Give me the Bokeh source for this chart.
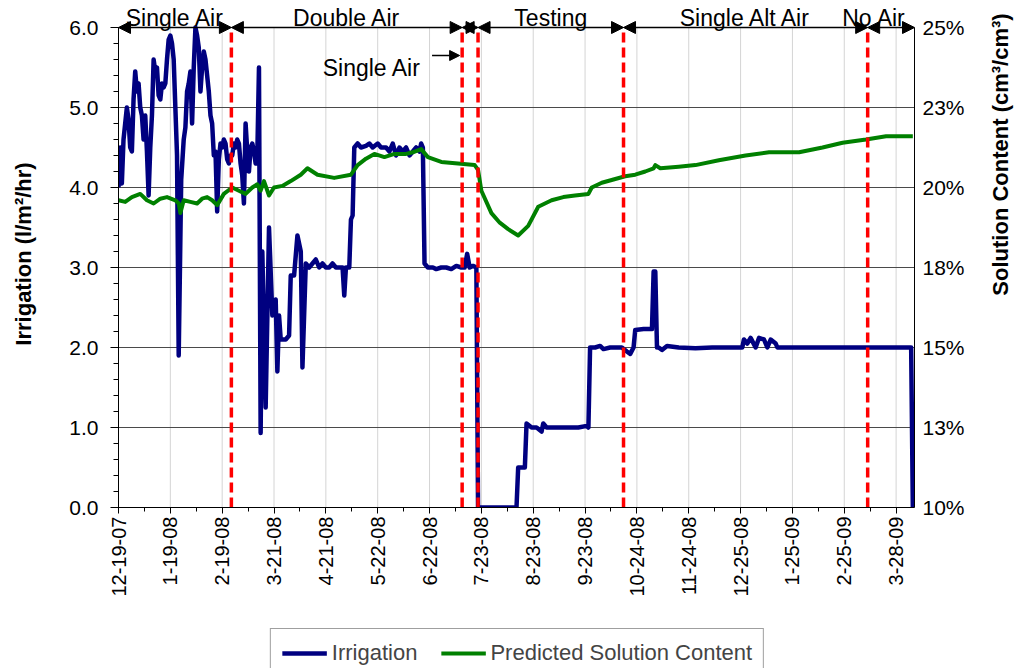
import math
import pandas as pd
from bokeh.plotting import figure
from bokeh.layouts import column, row
from bokeh.core.properties import value
from bokeh.models import (Range1d, LinearAxis, FixedTicker, NumeralTickFormatter, Spacer,
                          Arrow, NormalHead, Label, LabelSet, ColumnDataSource, Legend, LegendItem)
from bokeh.embed import file_html
from bokeh.resources import INLINE

# ---------------- data ----------------
start_date = "2007-12-19"
end_date = "2009-04-08"
date_labels = ["12-19-07", "1-19-08", "2-19-08", "3-21-08", "4-21-08", "5-22-08", "6-22-08",
               "7-23-08", "8-23-08", "9-23-08", "10-24-08", "11-24-08", "12-25-08", "1-25-09",
               "2-25-09", "3-28-09"]

irr_ticks = [0, 1, 2, 3, 4, 5, 6]
sol_ticks = [0.10, 0.125, 0.15, 0.175, 0.20, 0.225, 0.25]
sol_tick_labels = ["10%", "13%", "15%", "18%", "20%", "23%", "25%"]

# days since start_date, irrigation (l/m2/hr)
irr_day = [0, 1, 2, 3, 4, 5, 6, 7, 8, 9,
           10, 11, 12, 13, 14, 15, 16, 17, 18, 19,
           20, 21, 22, 23, 24, 25, 26, 27, 28, 29,
           30, 31, 32, 33, 34, 35, 36, 37.5, 39, 40,
           41, 42, 43, 44, 45, 46, 47, 48, 49, 50,
           51, 52, 53, 54, 55, 56, 57, 58, 59, 60,
           61, 62, 63, 64, 65, 66, 67, 68, 69, 70,
           71, 72, 73, 74, 75, 76, 77, 78, 79, 80,
           81, 82, 83, 84, 85, 86, 88, 90, 92, 94,
           95, 96, 97, 100, 102, 103, 105, 107, 109, 110,
           112, 114, 116, 118, 120, 122, 124, 126, 128, 130,
           132, 134, 135, 136, 138, 139, 140, 141, 143, 145,
           148, 150, 152, 155, 157, 160, 162, 164, 166, 168,
           170, 172, 174, 176, 178, 180, 181, 182, 183, 185,
           188, 190, 193, 196, 199, 202, 205, 207, 208.5, 210,
           212, 214, 215, 238, 239, 243, 244, 247, 250, 253,
           254, 256, 260, 265, 270, 275, 280, 281, 282, 285,
           288, 290, 294, 298, 301, 304, 306, 308, 309, 314,
           319, 320, 321, 322, 323, 325, 328, 335, 345, 355,
           365, 373, 374, 376, 378, 381, 383, 386, 388, 390,
           393, 394, 474, 475]
irr_value = [4.0, 4.5, 4.05, 4.6, 4.8, 5.0, 4.85, 4.5, 4.45, 5.1,
             5.45, 5.2, 5.3, 5.0, 4.9, 4.6, 4.9, 4.45, 3.9, 4.5,
             4.9, 5.6, 5.45, 5.5, 5.15, 5.1, 5.3, 5.25, 5.3, 5.6,
             5.85, 5.9, 5.8, 5.6, 5.0, 4.4, 1.9, 4.1, 4.6, 4.75,
             5.2, 5.3, 5.45, 4.8, 5.5, 6.0, 5.9, 5.75, 5.2, 5.5,
             5.7, 5.6, 5.4, 5.2, 4.9, 4.8, 4.4, 4.45, 3.7, 4.35,
             4.55, 4.5, 4.6, 4.55, 4.35, 4.3, 4.4, 4.4, 4.55, 4.5,
             4.6, 4.55, 4.3, 4.15, 3.8, 4.8, 4.45, 4.2, 4.5, 4.55,
             4.45, 4.3, 4.4, 5.5, 0.93, 3.2, 1.25, 3.5, 2.4, 2.6,
             1.7, 2.4, 2.1, 2.1, 2.15, 2.9, 2.9, 3.4, 3.2, 1.75,
             3.05, 3.0, 3.05, 3.1, 3.0, 3.05, 3.0, 3.0, 3.05, 3.0,
             3.0, 3.0, 2.65, 3.0, 3.0, 3.6, 3.65, 4.5, 4.55, 4.5,
             4.52, 4.55, 4.5, 4.55, 4.5, 4.5, 4.45, 4.55, 4.4, 4.5,
             4.45, 4.5, 4.4, 4.45, 4.5, 4.45, 4.55, 4.5, 3.05, 3.0,
             3.0, 2.98, 3.0, 3.0, 2.98, 3.02, 3.0, 3.0, 3.17, 3.0,
             3.02, 3.0, 0.0, 0.0, 0.5, 0.5, 1.05, 1.0, 1.0, 0.95,
             1.05, 1.0, 1.0, 1.0, 1.0, 1.0, 1.02, 1.0, 2.0, 2.0,
             2.02, 1.98, 2.0, 2.0, 2.0, 1.95, 1.92, 2.0, 2.22, 2.23,
             2.23, 2.95, 2.95, 2.0, 2.0, 1.97, 2.02, 2.0, 1.99, 2.0,
             2.0, 2.0, 2.1, 2.05, 2.12, 2.0, 2.12, 2.1, 2.0, 2.1,
             2.05, 2.0, 2.0, 0.0]

# days since start_date, predicted solution content (cm3/cm3)
sol_day = [0, 4, 8, 13, 17, 21, 25, 29, 34, 36,
           37, 39, 43, 47, 50, 53, 56, 59, 63, 68,
           72, 76, 80, 83, 85, 87, 90, 93, 98, 103,
           109, 113, 119, 129, 139, 143, 148, 153, 159, 165,
           172, 176, 181, 185, 193, 203, 213, 215, 217, 223,
           228, 233, 239, 245, 251, 259, 266, 273, 281, 283,
           289, 296, 303, 309, 315, 320, 321, 324, 335, 345,
           359, 375, 389, 407, 421, 433, 447, 459, 475]
sol_content = [0.196, 0.1955, 0.197, 0.198, 0.196, 0.195, 0.1965, 0.197, 0.196, 0.195,
               0.192, 0.196, 0.1955, 0.195, 0.1965, 0.197, 0.196, 0.1945, 0.198, 0.200,
               0.199, 0.198, 0.200, 0.201, 0.199, 0.202, 0.1975, 0.200, 0.2005, 0.202,
               0.204, 0.206, 0.204, 0.203, 0.204, 0.207, 0.209, 0.2105, 0.2095, 0.2105,
               0.2105, 0.211, 0.212, 0.2095, 0.208, 0.2075, 0.207, 0.2055, 0.199, 0.192,
               0.189, 0.187, 0.185, 0.188, 0.194, 0.196, 0.197, 0.1975, 0.198, 0.200,
               0.2015, 0.2025, 0.2035, 0.204, 0.205, 0.206, 0.207, 0.206, 0.2065, 0.207,
               0.2085, 0.210, 0.211, 0.211, 0.2125, 0.214, 0.215, 0.216, 0.216]

phase_names = ["Single Air", "Double Air", "", "Testing", "Single Alt Air", "No Air"]
phase_bounds = ["2007-12-19", "2008-02-24 12:00", "2008-07-11 12:00", "2008-07-21",
                "2008-10-16", "2009-03-11", "2009-04-08"]
short_phase_name = "Single Air"
series_names = ["Irrigation", "Predicted Solution Content"]
left_title = "Irrigation (l/m²/hr)"
right_title = "Solution Content (cm³/cm³)"

# ---------------- helpers ----------------
start = pd.Timestamp(start_date)


def ms(ts):
    return pd.Timestamp(ts).value / 1e6


irr_x = [start + pd.Timedelta(days=d) for d in irr_day]
sol_x = [start + pd.Timedelta(days=d) for d in sol_day]
tick_ms = [ms(pd.to_datetime(lbl, format="%m-%d-%y")) for lbl in date_labels]
half = (tick_ms[1] - tick_ms[0]) / 2
minor_ms = []
for t in tick_ms:
    minor_ms += [t, t + half]
bounds_ms = [ms(b) for b in phase_bounds]

FONT = "Liberation Sans"
IRR_COLOR = "#000080"
SOL_COLOR = "#008000"
top = irr_ticks[-1]
pad = 27.0 / 80.0          # room above the top of the axes for the phase labels
sol_per_irr = (sol_ticks[-1] - sol_ticks[0]) / (irr_ticks[-1] - irr_ticks[0])

MAIN_W, MAIN_H = 976, 620
p = figure(width=MAIN_W, height=MAIN_H, x_axis_type="datetime",
           x_range=Range1d(ms(start_date), ms(end_date)), y_range=Range1d(0, top + pad),
           output_backend="svg", toolbar_location=None,
           min_border_left=118, min_border_right=62, min_border_top=0, min_border_bottom=113)
p.outline_line_color = None
p.background_fill_color = "white"
p.border_fill_color = "white"

# x axis
xt = FixedTicker(ticks=tick_ms, minor_ticks=minor_ms)
p.xaxis.ticker = xt
p.xaxis.major_label_overrides = {t: l for t, l in zip(tick_ms, date_labels)}
p.xaxis.major_label_orientation = math.pi / 2
p.xaxis.major_label_text_font = FONT
p.xaxis.major_label_text_font_size = "20px"
p.xaxis.major_label_text_color = "black"
p.xaxis.major_label_standoff = 3
p.xaxis.major_tick_out = 6
p.xaxis.major_tick_in = 0
p.xaxis.minor_tick_out = 4
p.xaxis.minor_tick_in = 0
p.xaxis.axis_line_color = "black"
p.xaxis.major_tick_line_color = "black"
p.xaxis.minor_tick_line_color = "black"

# left axis
yt = FixedTicker(ticks=irr_ticks, minor_ticks=[i / 5 for i in range(0, 31)])
p.yaxis.ticker = yt
p.yaxis.bounds = (irr_ticks[0], irr_ticks[-1])
p.yaxis.formatter = NumeralTickFormatter(format="0.0")
p.yaxis.axis_label = left_title
p.yaxis.axis_label_text_font = FONT
p.yaxis.axis_label_text_font_style = "bold"
p.yaxis.axis_label_text_font_size = "22px"
p.yaxis.axis_label_text_color = "black"
p.yaxis.axis_label_standoff = 30
p.yaxis.major_label_text_font = FONT
p.yaxis.major_label_text_font_size = "21px"
p.yaxis.major_label_text_color = "black"
p.yaxis.major_label_standoff = 12
p.yaxis.major_tick_out = 8
p.yaxis.major_tick_in = 0
p.yaxis.minor_tick_out = 5
p.yaxis.minor_tick_in = 0
p.yaxis.axis_line_color = "black"

# right axis (its title sits in a narrow strip to the right)
p.extra_y_ranges = {"sol": Range1d(sol_ticks[0], sol_ticks[-1] + pad * sol_per_irr)}
ra = LinearAxis(y_range_name="sol", ticker=FixedTicker(ticks=sol_ticks),
                bounds=(sol_ticks[0], sol_ticks[-1]))
ra.major_label_overrides = {t: l for t, l in zip(sol_ticks, sol_tick_labels)}
ra.major_label_text_font = FONT
ra.major_label_text_font_size = "21px"
ra.major_label_text_color = "black"
ra.major_label_standoff = 8
ra.major_tick_out = 0
ra.major_tick_in = 0
ra.minor_tick_out = 0
ra.axis_line_color = "black"
p.add_layout(ra, "right")

# grids
p.xgrid.visible = False
p.segment(x0=tick_ms, y0=[irr_ticks[0]] * len(tick_ms), x1=tick_ms, y1=[top] * len(tick_ms),
          line_color="#d4d4d4", line_width=1, level="underlay")
p.ygrid.ticker = yt
p.ygrid.grid_line_color = "#4a4a4a"

# series
p.line(irr_x, irr_value, line_color=IRR_COLOR, line_width=4.5, line_join="round")
p.line(sol_x, sol_content, y_range_name="sol", line_color=SOL_COLOR, line_width=4,
       line_join="round")

# phase dividers
div_ms = bounds_ms[1:-1]
p.segment(x0=div_ms, y0=[irr_ticks[0]] * len(div_ms), x1=div_ms, y1=[top] * len(div_ms),
          line_color="#ff0000", line_width=3.5, line_dash="10 5")

# phase arrows along the top
arrow_src = ColumnDataSource(dict(x0=bounds_ms[:-1], x1=bounds_ms[1:], y=[top] * len(phase_names)))
p.add_layout(Arrow(source=arrow_src, x_start="x0", x_end="x1", y_start="y", y_end="y",
                   line_color="black", line_width=1.5,
                   start=NormalHead(size=12, fill_color="black", line_color="black"),
                   end=NormalHead(size=12, fill_color="black", line_color="black")))
label_shift = [0, 0, 0, 0, 0, -17]   # keep the last label inside the plot area
lab_src = ColumnDataSource(dict(x=[(a + b) / 2 for a, b in zip(bounds_ms[:-1], bounds_ms[1:])],
                                y=[top] * len(phase_names), name=phase_names, dx=label_shift))
p.add_layout(LabelSet(source=lab_src, x="x", y="y", text="name", x_offset="dx",
                      text_align="center", text_baseline="alphabetic", y_offset=2,
                      text_font=value(FONT), text_font_size="23px", text_color="black"))

# short "Single Air" phase call-out
day_ms = 86400000.0
p.add_layout(Arrow(x_start=bounds_ms[2] - 18 * day_ms, x_end=bounds_ms[2] - 1.5 * day_ms,
                   y_start=5.65, y_end=5.65, line_color="black", line_width=1.5,
                   end=NormalHead(size=10, fill_color="black", line_color="black")))
p.add_layout(Label(x=bounds_ms[2], y=5.5, x_offset=-41, text=short_phase_name,
                   text_align="right", text_baseline="alphabetic", text_font=FONT,
                   text_font_size="23px", text_color="black"))

# right-hand title strip (reads bottom to top, centred on the axis)
TITLE_W = 1016 - MAIN_W
pt = figure(width=TITLE_W, height=MAIN_H, output_backend="svg", toolbar_location=None,
            x_range=Range1d(0, 1), y_range=Range1d(0, 1), min_border=0)
pt.axis.visible = False
pt.grid.visible = False
pt.outline_line_color = None
pt.add_layout(Label(x=TITLE_W - 16, y=MAIN_H - (27 + 507) / 2, x_units="screen", y_units="screen",
                    text=right_title, angle=math.pi / 2, text_align="center",
                    text_baseline="middle", text_font=FONT, text_font_style="bold",
                    text_font_size="22px", text_color="black"))

# legend (in its own strip below the chart; its lines lie outside the strip's ranges)
pl = figure(width=998, height=48, output_backend="svg", toolbar_location=None,
            x_range=Range1d(0, 1), y_range=Range1d(0, 1), min_border=0)
pl.axis.visible = False
pl.grid.visible = False
pl.outline_line_color = None
l1 = pl.line(irr_x, irr_value, line_color=IRR_COLOR, line_width=4.5)
l2 = pl.line(sol_x, sol_content, line_color=SOL_COLOR, line_width=4)
legend = Legend(items=[LegendItem(label=series_names[0], renderers=[l1]),
                       LegendItem(label=series_names[1], renderers=[l2])],
                orientation="horizontal", location="top", margin=8,
                label_text_font=FONT, label_text_font_size="22px",
                glyph_width=45, glyph_height=20, label_standoff=5, spacing=23, padding=11,
                border_line_color="#404040", border_line_width=1,
                background_fill_alpha=1.0)
pl.add_layout(legend, "center")

layout = column(row(p, pt), row(Spacer(width=18, height=48), pl))
open("out.html", "w").write(file_html(layout, INLINE))
